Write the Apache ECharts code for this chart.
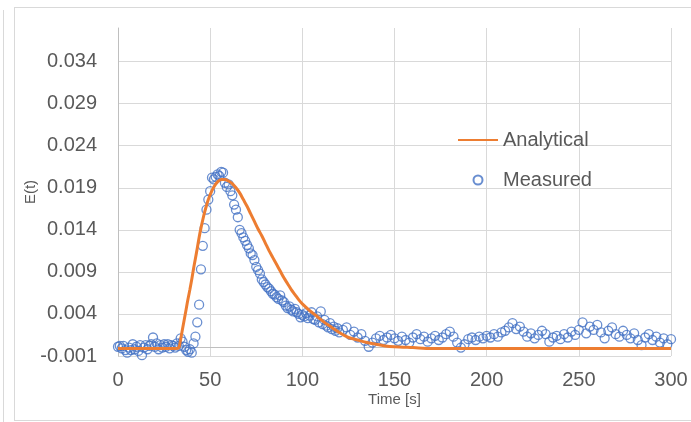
<!DOCTYPE html>
<html lang="en">
<head>
    <meta charset="UTF-8">
    <title>E(t) - Analytical vs Measured</title>
    <script src="https://cdn.jsdelivr.net/npm/echarts@6/dist/echarts.min.js"></script>
    <style>
        html, body {
            margin: 0;
            padding: 0;
            width: 691px;
            height: 422px;
            overflow: hidden;
            background: #fff;
        }
        /* Excel-like chart frame */
        .frame {
            position: absolute;
            left: 14px;
            top: 7px;
            width: 700px;
            height: 412px;
            border: 1px solid #d9d9d9;
        }
        .edge {
            position: absolute;
            left: 3px;
            top: 10px;
            width: 1px;
            height: 412px;
            background: #d9d9d9;
        }
        #chart {
            position: absolute;
            left: 0;
            top: 0;
            width: 691px;
            height: 422px;
        }
    </style>
</head>
<body>
<div class="edge"></div>
<div class="frame"></div>
<div id="chart"></div>

<script>
    // Analytical E(t) curve
    var analyticalTime = [0, 32, 33, 34, 35, 36, 37, 38, 39, 40, 41, 42, 43, 44, 45, 46, 47, 48, 49, 50,
        52, 54, 56, 58, 60, 62, 64, 66, 68, 70, 72, 74, 76, 78, 80, 82, 84, 86, 88, 90, 92, 94, 96, 98, 100,
        104, 108, 112, 116, 120, 125, 130, 135, 140, 145, 150, 160, 170, 300];
    var analyticalE = [-0.0001, -0.0001, 0.0000, 0.0010, 0.0022, 0.0034, 0.0046, 0.0058, 0.0069, 0.0081,
        0.0094, 0.0106, 0.0118, 0.0131, 0.0142, 0.0152, 0.0161, 0.0169, 0.0176, 0.0182,
        0.0191, 0.0197, 0.0200, 0.0200, 0.0198, 0.0195, 0.0190, 0.0184, 0.0176, 0.0168, 0.0159, 0.0150,
        0.0141, 0.0133, 0.0124, 0.0115, 0.0107, 0.0099, 0.0091, 0.0083, 0.0076, 0.0069, 0.0063, 0.0057, 0.0052,
        0.0044, 0.0037, 0.0030, 0.0024, 0.0018, 0.0012, 0.0009, 0.0006, 0.0004, 0.0002, 0.0001, 0.0000,
        -0.0001, -0.0001];

    // Measured E(t) samples
    var measuredTime = [
        0, 1, 2, 3, 4, 5, 6, 7, 8, 9, 10, 11, 12, 13, 14, 15, 16, 17, 18, 19,
        20, 21, 22, 23, 24, 25, 26, 27, 28, 29, 30, 31, 32, 33, 34, 35, 36, 37, 38, 39,
        40, 41, 42, 43, 44, 45, 46, 47, 48, 49, 50, 51, 52, 53, 54, 55, 56, 57, 58, 59,
        60, 61, 62, 63, 64, 65, 66, 67, 68, 69, 70, 71, 72, 73, 74, 75, 76, 77, 78, 79,
        80, 81, 82, 83, 84, 85, 86, 87, 88, 89, 90, 91, 92, 93, 94, 95, 96, 97, 98, 99,
        100, 101, 102, 103, 104, 105, 106, 107, 108, 109, 110, 111, 112, 113, 114, 115, 116, 117, 118, 119,
        120, 122, 124, 126, 128, 130, 132, 134, 136, 138, 140, 142, 144, 146, 148, 150, 152, 154, 156, 158,
        160, 162, 164, 166, 168, 170, 172, 174, 176, 178, 180, 182, 184, 186, 188, 190, 192, 194, 196, 198,
        200, 202, 204, 206, 208, 210, 212, 214, 216, 218, 220, 222, 224, 226, 228, 230, 232, 234, 236, 238,
        240, 242, 244, 246, 248, 250, 252, 254, 256, 258, 260, 262, 264, 266, 268, 270, 272, 274, 276, 278,
        280, 282, 284, 286, 288, 290, 292, 294, 296, 298, 300];
    var measuredE = [
        0.0001, 0.0002, -0.0001, 0.0002, -0.0003, -0.0006, 0.0000, -0.0003, 0.0004, -0.0002,
        0.0001, -0.0004, 0.0003, -0.0009, 0.0000, 0.0003, -0.0002, 0.0002, 0.0004, 0.0012,
        0.0001, 0.0005, -0.0002, 0.0003, 0.0000, 0.0004, 0.0001, 0.0004, -0.0001, 0.0003,
        0.0002, 0.0000, 0.0005, 0.0002, 0.0011, 0.0007, 0.0001, -0.0003, -0.0005, -0.0002,
        -0.0006, 0.0005, 0.0013, 0.0030, 0.0051, 0.0093, 0.0121, 0.0142, 0.0164, 0.0176,
        0.0186, 0.0202, 0.0200, 0.0203, 0.0206, 0.0204, 0.0209, 0.0208, 0.0196, 0.0191,
        0.0194, 0.0186, 0.0181, 0.0170, 0.0164, 0.0155, 0.0140, 0.0136, 0.0131, 0.0127,
        0.0122, 0.0118, 0.0112, 0.0110, 0.0104, 0.0096, 0.0092, 0.0088, 0.0081, 0.0078,
        0.0075, 0.0072, 0.0070, 0.0067, 0.0064, 0.0063, 0.0060, 0.0058, 0.0062, 0.0056,
        0.0054, 0.0050, 0.0047, 0.0049, 0.0045, 0.0043, 0.0046, 0.0042, 0.0040, 0.0036,
        0.0039, 0.0037, 0.0041, 0.0035, 0.0038, 0.0042, 0.0034, 0.0033, 0.0037, 0.0030,
        0.0043, 0.0028, 0.0033, 0.0026, 0.0024, 0.0029, 0.0022, 0.0025, 0.0020, 0.0023,
        0.0018, 0.0021, 0.0024, 0.0015, 0.0019, 0.0012, 0.0016, 0.0008, 0.0001, 0.0006,
        0.0011, 0.0014, 0.0009, 0.0012, 0.0015, 0.0011, 0.0008, 0.0013, 0.0009, 0.0006,
        0.0012, 0.0016, 0.0010, 0.0013, 0.0007, 0.0011, 0.0014, 0.0009, 0.0012, 0.0016,
        0.0019, 0.0013, 0.0006, 0.0000, 0.0004, 0.0010, 0.0012, 0.0009, 0.0013, 0.0011,
        0.0014, 0.0012, 0.0016, 0.0013, 0.0018, 0.0020, 0.0024, 0.0029, 0.0022, 0.0025,
        0.0019, 0.0013, 0.0017, 0.0011, 0.0015, 0.0020, 0.0016, 0.0007, 0.0012, 0.0014,
        0.0010, 0.0016, 0.0012, 0.0019, 0.0015, 0.0021, 0.0030, 0.0017, 0.0025, 0.0021,
        0.0027, 0.0018, 0.0011, 0.0020, 0.0024, 0.0016, 0.0013, 0.0020, 0.0015, 0.0011,
        0.0017, 0.0009, 0.0003, 0.0012, 0.0016, 0.0009, 0.0013, 0.0006, 0.0011, 0.0004,
        0.0010];

    // Axis ticks
    var xTicks = { min: 0, max: 300, interval: 50 };
    var yTicks = { min: -0.001, max: 0.038, interval: 0.005 };

    var chart = echarts.init(document.getElementById('chart'), null, { renderer: 'canvas' });

    var font = '"Liberation Sans", Arial, sans-serif';
    var textGray = '#595959';

    var option = {
        animation: false,
        backgroundColor: 'transparent',
        textStyle: { fontFamily: font },
        grid: { left: 118, right: 20, top: 28, bottom: 66 },
        legend: {
            orient: 'vertical',
            left: 457,
            top: 130,
            padding: 0,
            itemWidth: 40,
            itemHeight: 9,
            itemGap: 20,
            textStyle: { color: textGray, fontSize: 20, fontFamily: font, lineHeight: 20 },
            data: [
                // line only, no marker in the legend
                { name: 'Analytical', itemStyle: { color: 'rgba(0,0,0,0)', borderWidth: 0 } },
                { name: 'Measured' }
            ]
        },
        xAxis: {
            type: 'value',
            min: xTicks.min,
            max: xTicks.max,
            interval: xTicks.interval,
            name: 'Time [s]',
            nameLocation: 'middle',
            nameGap: 36,
            nameMoveOverlap: false,
            nameTextStyle: { color: textGray, fontSize: 15, fontFamily: font },
            axisLine: { show: true, onZero: true, lineStyle: { color: '#bfbfbf', width: 1 } },
            axisTick: { show: false },
            axisLabel: { color: textGray, fontSize: 20, margin: 14, fontFamily: font },
            splitLine: { show: true, lineStyle: { color: '#d9d9d9', width: 1 } }
        },
        yAxis: {
            type: 'value',
            min: yTicks.min,
            max: yTicks.max,
            interval: yTicks.interval,
            name: 'E(t)',
            nameLocation: 'middle',
            nameGap: 80,
            nameMoveOverlap: false,
            nameTextStyle: { color: textGray, fontSize: 15, fontFamily: font },
            axisLine: { show: true, lineStyle: { color: '#bfbfbf', width: 1 } },
            axisTick: { show: false },
            axisLabel: {
                color: textGray,
                fontSize: 20,
                margin: 21,
                fontFamily: font,
                showMaxLabel: false,
                formatter: function (v) { return v.toFixed(3); }
            },
            splitLine: { show: true, showMaxLine: false, lineStyle: { color: '#d9d9d9', width: 1 } }
        },
        series: [
            {
                name: 'Analytical',
                type: 'line',
                z: 3,
                symbol: 'none',
                smooth: 0.3,
                lineStyle: { color: '#ED7D31', width: 3 },
                itemStyle: { color: '#ED7D31' },
                data: analyticalTime.map(function (t, i) { return [t, analyticalE[i]]; })
            },
            {
                name: 'Measured',
                type: 'scatter',
                z: 2,
                symbol: 'circle',
                symbolSize: 9,
                itemStyle: {
                    color: 'rgba(0,0,0,0)',
                    borderColor: '#4472C4',
                    borderWidth: 1.3,
                    opacity: 0.8
                },
                data: measuredTime.map(function (t, i) { return [t, measuredE[i]]; })
            }
        ]
    };

    chart.setOption(option);
</script>
</body>
</html>
